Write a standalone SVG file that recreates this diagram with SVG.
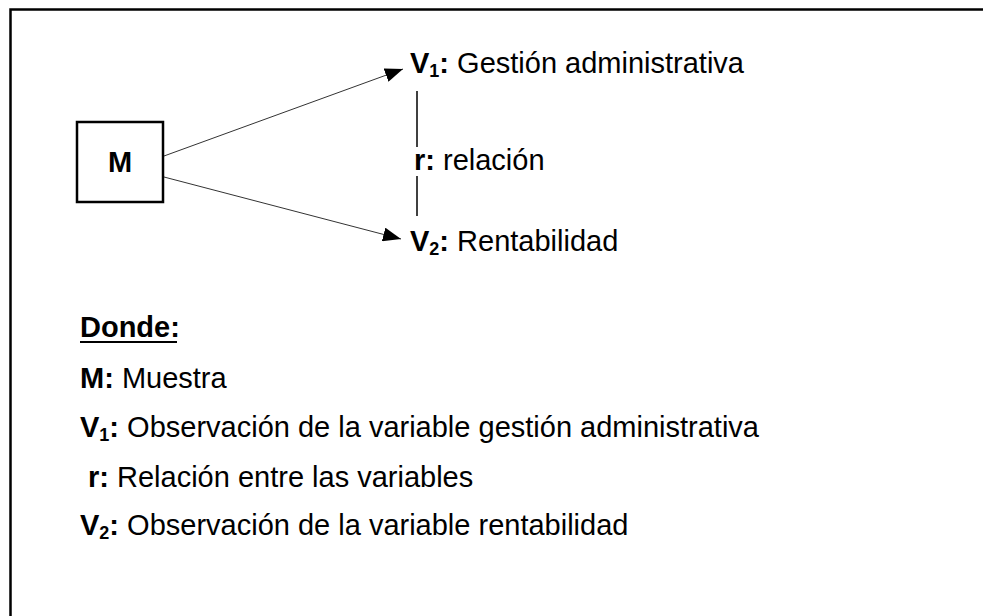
<svg xmlns="http://www.w3.org/2000/svg" width="983" height="616" viewBox="0 0 983 616">
<style>
text{font-family:"Liberation Sans",Arial,sans-serif;font-size:29px;fill:#000}
.b{font-weight:bold}
.s{font-size:18px;font-weight:bold}
.conn{stroke:#333;stroke-width:1;fill:none}
.rel{stroke:#000;stroke-width:1.5}
</style>
<defs>
<marker id="ah" markerUnits="userSpaceOnUse" markerWidth="18" markerHeight="14" refX="18" refY="7" orient="auto">
<path d="M0,0 L18,7 L0,14 z" fill="#000"/>
</marker>
</defs>
<rect x="10.5" y="9.5" width="1000" height="700" fill="#fff" stroke="#000" stroke-width="2.5"/>
<g id="connectors">
<line class="conn" x1="164" y1="156" x2="403" y2="69" marker-end="url(#ah)"/>
<line class="conn" x1="164" y1="177" x2="401" y2="239" marker-end="url(#ah)"/>
<line class="rel" x1="417" y1="91" x2="417" y2="147"/>
<line class="rel" x1="417" y1="176" x2="417" y2="216"/>
</g>
<g id="M">
<rect x="77" y="122" width="86" height="80" fill="#fff" stroke="#000" stroke-width="2.5"/>
<text x="120" y="172" text-anchor="middle" class="b">M</text>
</g>
<g id="V1">
<text x="410" y="73"><tspan class="b">V</tspan><tspan class="s" dy="4">1</tspan><tspan class="b" dy="-4">:</tspan> Gestión administrativa</text>
</g>
<g id="r">
<text x="414" y="170"><tspan class="b">r:</tspan> relación</text>
</g>
<g id="V2">
<text x="410" y="251"><tspan class="b">V</tspan><tspan class="s" dy="4">2</tspan><tspan class="b" dy="-4">:</tspan> Rentabilidad</text>
</g>
<g id="legend">
<text x="80" y="337" class="b">Donde:</text>
<line x1="80" y1="342" x2="177" y2="342" stroke="#000" stroke-width="2"/>
<text x="80" y="388"><tspan class="b">M:</tspan> Muestra</text>
<text x="80" y="437"><tspan class="b">V</tspan><tspan class="s" dy="4">1</tspan><tspan class="b" dy="-4">:</tspan> Observación de la variable gestión administrativa</text>
<text x="88" y="487"><tspan class="b">r:</tspan> Relación entre las variables</text>
<text x="80" y="535"><tspan class="b">V</tspan><tspan class="s" dy="4">2</tspan><tspan class="b" dy="-4">:</tspan> Observación de la variable rentabilidad</text>
</g>
</svg>
